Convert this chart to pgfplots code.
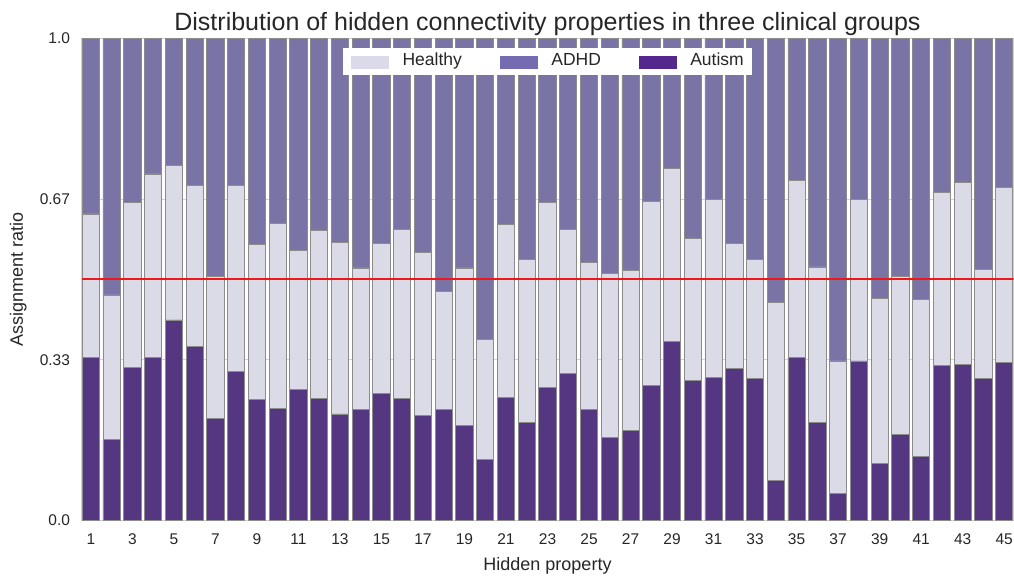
\documentclass[border=0pt]{standalone}
\usepackage{fontspec}
\setmainfont{Liberation Sans}
\usepackage{pgfplots}
\pgfplotsset{compat=1.18}
\usepackage{pgfplotstable}
\definecolor{cAut}{RGB}{84,55,128}
\definecolor{cHea}{RGB}{219,219,232}
\definecolor{cAdh}{RGB}{122,116,166}
\definecolor{lAut}{RGB}{84,39,143}
\definecolor{lHea}{RGB}{218,218,235}
\definecolor{lAdh}{RGB}{117,107,177}
\definecolor{edgec}{RGB}{140,140,140}
\definecolor{txt}{RGB}{38,38,38}
\definecolor{refred}{RGB}{235,25,25}
\pgfplotstableread{
n aut hea adh
1 0.338 0.298 0.364
2 0.168 0.300 0.532
3 0.318 0.341 0.341
4 0.338 0.381 0.281
5 0.416 0.321 0.263
6 0.361 0.334 0.305
7 0.211 0.295 0.494
8 0.309 0.386 0.305
9 0.251 0.321 0.428
10 0.233 0.384 0.383
11 0.271 0.290 0.439
12 0.253 0.348 0.399
13 0.221 0.355 0.424
14 0.231 0.293 0.476
15 0.263 0.311 0.426
16 0.253 0.351 0.396
17 0.218 0.339 0.443
18 0.231 0.245 0.524
19 0.198 0.326 0.476
20 0.126 0.250 0.624
21 0.256 0.358 0.386
22 0.203 0.339 0.458
23 0.276 0.383 0.341
24 0.306 0.298 0.396
25 0.231 0.305 0.464
26 0.173 0.340 0.487
27 0.186 0.333 0.481
28 0.280 0.381 0.339
29 0.371 0.360 0.269
30 0.291 0.294 0.415
31 0.296 0.370 0.334
32 0.316 0.258 0.426
33 0.294 0.248 0.458
34 0.083 0.370 0.547
35 0.338 0.368 0.294
36 0.203 0.323 0.474
37 0.056 0.275 0.669
38 0.331 0.335 0.334
39 0.119 0.342 0.539
40 0.179 0.328 0.493
41 0.133 0.325 0.542
42 0.321 0.360 0.319
43 0.324 0.378 0.298
44 0.294 0.227 0.479
45 0.328 0.363 0.309
}\data
\begin{document}
\begin{tikzpicture}
\useasboundingbox (0,0) rectangle (1014pt,579pt);
\begin{axis}[
  at={(81.5pt,58.5pt)}, anchor=south west,
  scale only axis, width=932pt, height=482pt,
  ybar stacked, bar width=0.83,
  xmin=0.55, xmax=45.45, ymin=0, ymax=1,
  xtick={1,3,...,45},
  ytick={0,0.3333,0.6667,1}, yticklabels={0.0,0.33,0.67,1.0},
  major tick length=0,
  ymajorgrids, grid style={draw=gray!35, line width=0.8pt},
  axis line style={draw=gray!35, line width=1pt},
  tick label style={font=\fontsize{15.5}{18}\selectfont, text=txt},
  xticklabel style={yshift=-10pt},
  yticklabel style={xshift=-8pt},
  /pgf/number format/assume math mode=true,
  xlabel={Hidden property}, ylabel={Assignment ratio},
  label style={font=\fontsize{18}{21}\selectfont, text=txt},
  xlabel style={at={(axis description cs:0.5,-0.0934)}, anchor=center},
  ylabel style={at={(axis description cs:-0.068,0.5)}, anchor=center},
  title={Distribution of hidden connectivity properties in three clinical groups},
  title style={font=\fontsize{25}{30}\selectfont, text=txt, at={(axis description cs:0.5,1)}, anchor=base, yshift=2pt},
  legend style={at={(0.5,0.9813)}, anchor=north, draw=none, fill=white,
    font=\fontsize{17.5}{21}\selectfont, text=txt, inner xsep=8.5pt, inner ysep=3.7pt,
    nodes={inner xsep=0pt, inner ysep=2pt, text height=12.5pt, text depth=3.7pt},
    /tikz/every odd column/.append style={column sep=14pt},
    /tikz/every even column/.append style={column sep=38pt}},
  legend columns=3,
  legend cell align=left,
  every axis plot/.append style={draw=edgec, line width=0.8pt},
]
\addplot[fill=cAut, forget plot] table[x=n, y=aut] {\data};
\addplot[fill=cHea, forget plot] table[x=n, y=hea] {\data};
\addplot[fill=cAdh, forget plot] table[x=n, y=adh] {\data};
\addlegendimage{legend image code/.code={\fill[lHea] (0pt,-7pt) rectangle (36.6pt,5pt);}}
\addlegendentry{Healthy}
\addlegendimage{legend image code/.code={\fill[lAdh] (0pt,-7pt) rectangle (36.6pt,5pt);}}
\addlegendentry{ADHD}
\addlegendimage{legend image code/.code={\fill[lAut] (0pt,-7pt) rectangle (36.6pt,5pt);}}
\addlegendentry{Autism}
\end{axis}
\begin{axis}[
  at={(81.5pt,58.5pt)}, anchor=south west,
  scale only axis, width=932pt, height=482pt,
  xmin=0.55, xmax=45.45, ymin=0, ymax=1,
  hide axis,
]
\addplot[draw=refred, line width=2pt, mark=none] coordinates {(0.55,0.5) (45.45,0.5)};
\end{axis}
\end{tikzpicture}
\end{document}
